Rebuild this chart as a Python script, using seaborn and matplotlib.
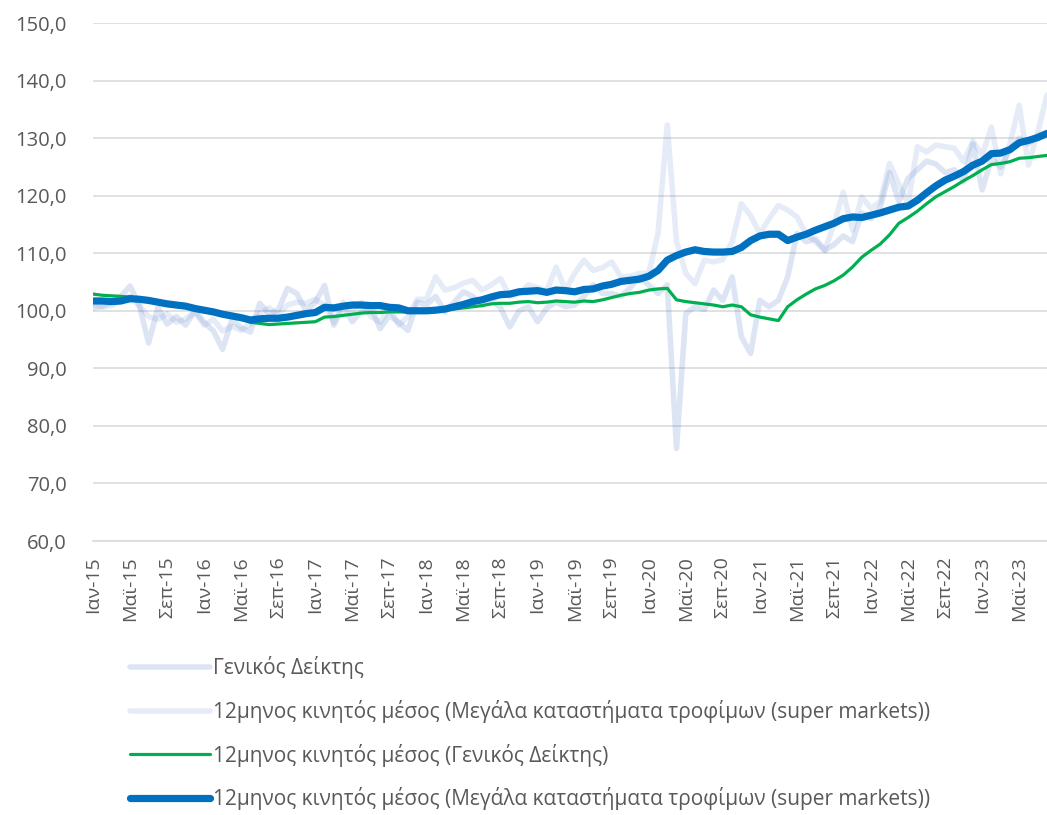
import matplotlib
matplotlib.use("Agg")
import matplotlib.pyplot as plt
import matplotlib.ticker as mticker
import numpy as np
import pandas as pd
import seaborn as sns

# Monthly index, Jan-15 .. Aug-23 (104 months)
N_MONTHS = 104

GENERAL = [
    100.5, 100.8, 101.5, 102.5, 104.3, 101.0, 94.4, 100.5, 97.7, 99.0, 97.5, 100.0,
    98.0, 96.5, 93.3, 98.5, 97.0, 96.3, 101.3, 99.5, 100.1, 103.9, 103.0, 100.0,
    101.5, 104.4, 97.5, 100.7, 98.1, 100.0, 100.7, 96.9, 99.2, 98.0, 96.6, 101.5,
    101.0, 102.5, 99.8, 101.5, 103.3, 102.5, 101.0, 102.0, 100.5, 97.2, 100.0, 100.7,
    98.1, 100.5, 101.5, 100.7, 101.0, 102.5, 104.5, 103.0, 103.0, 102.5, 104.0, 105.9,
    104.5, 103.0, 104.5, 76.1, 99.5, 100.7, 100.2, 103.6, 101.8, 105.9, 95.5, 92.6,
    101.8, 100.7, 101.8, 105.9, 113.4, 112.0, 112.5, 110.5, 111.5, 113.0, 112.0, 117.0,
    116.0, 118.0, 124.0, 119.0, 123.0, 124.5, 126.0, 125.5, 124.0, 124.5, 122.5, 129.0,
    121.0, 126.5, 125.0, 128.0, 130.0, 129.0, 130.5, 131.0,
]

SUPERMARKETS = [
    101.2, 100.6, 100.9, 101.8, 102.5, 100.8, 99.0, 98.5, 99.5, 98.0, 98.6, 99.8,
    97.5, 98.5, 96.5, 97.3, 96.6, 97.8, 99.5, 100.5, 99.3, 101.0, 101.5, 101.3,
    102.0, 101.0, 98.0, 101.5, 100.0, 101.5, 99.0, 98.0, 100.5, 97.5, 99.0, 102.0,
    102.0, 105.9, 103.6, 104.0, 104.8, 105.3, 103.6, 104.5, 105.6, 102.5, 103.0, 104.5,
    104.0, 103.5, 107.6, 103.6, 106.5, 108.8, 107.0, 107.5, 108.5, 105.9, 106.0, 106.5,
    106.5, 113.4, 132.3, 112.0, 106.5, 104.7, 108.8, 108.5, 108.9, 112.0, 118.6, 116.5,
    113.4, 116.0, 118.3, 117.5, 116.3, 113.4, 112.0, 110.5, 115.0, 120.6, 114.0, 119.8,
    117.8, 119.0, 125.6, 122.0, 118.6, 128.5, 127.6, 128.8, 128.5, 128.2, 125.9, 129.5,
    127.0, 131.9, 123.8, 129.0, 135.7, 125.3, 131.0, 137.5,
]

MA_GENERAL = [
    102.9, 102.7, 102.6, 102.5, 102.4, 102.2, 101.8, 101.5, 101.2, 100.9, 100.7, 100.3,
    100.0, 99.8, 99.3, 99.0, 98.6, 98.0, 97.8, 97.6, 97.7, 97.8, 97.9, 98.0,
    98.1, 98.9, 99.0, 99.2, 99.4, 99.6, 99.7, 99.7, 99.8, 99.8, 99.8, 99.9,
    99.9, 100.0, 100.1, 100.3, 100.5, 100.7, 100.9, 101.2, 101.3, 101.3, 101.5, 101.6,
    101.4, 101.5, 101.7, 101.6, 101.5, 101.7, 101.6, 101.9, 102.3, 102.7, 103.0, 103.2,
    103.6, 103.8, 103.9, 101.9, 101.6, 101.4, 101.2, 101.0, 100.7, 101.0, 100.7, 99.3,
    98.9, 98.6, 98.3, 100.7, 101.9, 102.9, 103.8, 104.4, 105.2, 106.2, 107.6, 109.3,
    110.5, 111.6, 113.2, 115.2, 116.2, 117.3, 118.6, 119.8, 120.7, 121.6, 122.6, 123.5,
    124.5, 125.4, 125.6, 125.9, 126.5, 126.6, 126.8, 127.0,
]

MA_SUPERMARKETS = [
    101.7, 101.7, 101.6, 101.7, 102.1, 102.0, 101.8, 101.5, 101.2, 101.0, 100.8, 100.4,
    100.1, 99.8, 99.4, 99.1, 98.8, 98.4, 98.6, 98.7, 98.7, 98.9, 99.2, 99.5,
    99.7, 100.6, 100.5, 100.8, 101.0, 101.0, 100.9, 100.9, 100.6, 100.5, 100.0, 100.0,
    100.0, 100.1, 100.3, 100.7, 101.1, 101.6, 101.9, 102.4, 102.8, 102.9, 103.3, 103.4,
    103.5, 103.2, 103.6, 103.5, 103.3, 103.7, 103.8, 104.3, 104.6, 105.1, 105.3, 105.5,
    106.0, 107.0, 108.8, 109.6, 110.2, 110.6, 110.3, 110.2, 110.2, 110.3, 111.0, 112.2,
    113.0, 113.3, 113.3, 112.2, 112.8, 113.3, 114.0, 114.6, 115.2, 116.0, 116.3, 116.2,
    116.6, 117.0, 117.5, 118.0, 118.2, 119.2, 120.5, 121.7, 122.7, 123.4, 124.2, 125.3,
    126.0, 127.3, 127.4, 128.0, 129.2, 129.6, 130.1, 130.8,
]

TICK_LABELS = [
    "Ιαν-15", "Μαϊ-15", "Σεπ-15", "Ιαν-16", "Μαϊ-16", "Σεπ-16", "Ιαν-17",
    "Μαϊ-17", "Σεπ-17", "Ιαν-18", "Μαϊ-18", "Σεπ-18", "Ιαν-19", "Μαϊ-19",
    "Σεπ-19", "Ιαν-20", "Μαϊ-20", "Σεπ-20", "Ιαν-21", "Μαϊ-21", "Σεπ-21",
    "Ιαν-22", "Μαϊ-22", "Σεπ-22", "Ιαν-23", "Μαϊ-23",
]

SERIES_NAMES = [
    "Γενικός Δείκτης",
    "12μηνος κινητός μέσος (Μεγάλα καταστήματα τροφίμων (super markets))",
    "12μηνος κινητός μέσος (Γενικός Δείκτης)",
    "12μηνος κινητός μέσος (Μεγάλα καταστήματα τροφίμων (super markets))",
]

sns.set_style("white")
plt.rcParams["font.family"] = ["Open Sans", "DejaVu Sans"]

df = pd.DataFrame({
    "month": np.arange(N_MONTHS),
    "general": GENERAL,
    "supermarkets": SUPERMARKETS,
    "ma_general": MA_GENERAL,
    "ma_supermarkets": MA_SUPERMARKETS,
})

fig = plt.figure(figsize=(10.47, 8.15), dpi=100)
ax = fig.add_axes([93 / 1047, 1 - 541 / 815, (1047 - 93) / 1047, (541 - 23) / 815])

styles = [
    ("general", "#4472c4", 4.0, 0.18),
    ("supermarkets", "#4472c4", 4.0, 0.13),
    ("ma_general", "#00b050", 2.3, 1.0),
    ("ma_supermarkets", "#0070c0", 5.2, 1.0),
]
for (col, color, lw, alpha), name in zip(styles, SERIES_NAMES):
    sns.lineplot(data=df, x="month", y=col, ax=ax, color=color, linewidth=lw,
                 alpha=alpha, label=name, legend=False)

ax.set_xlim(0, N_MONTHS - 1)
ax.set_ylim(60, 150)
ax.set_yticks(np.arange(60, 151, 10))
ax.yaxis.set_major_formatter(mticker.FuncFormatter(lambda v, p: f"{v:.1f}".replace(".", ",")))
ax.set_xticks(np.arange(0, N_MONTHS, 4))
ax.set_xticklabels(TICK_LABELS, rotation=90)
ax.set_xlabel("")
ax.set_ylabel("")

ax.grid(axis="y", color="#d9d9d9", linewidth=1.1)
ax.set_axisbelow(True)
for side in ["left", "right", "top"]:
    ax.spines[side].set_visible(False)
ax.spines["bottom"].set_color("#d9d9d9")
ax.spines["bottom"].set_linewidth(1.1)
ax.tick_params(axis="x", colors="#595959", labelsize=14, length=5, width=1.1,
               color="#d9d9d9", direction="out", pad=6)
ax.tick_params(axis="y", colors="#595959", labelsize=14.5, length=0, pad=19)

handles, labels = ax.get_legend_handles_labels()
fig.legend(handles, labels, loc="upper left", bbox_to_anchor=(130 / 1047, 1 - 656 / 815),
           frameon=False, fontsize=15, handlelength=3.85, handletextpad=0.15,
           labelspacing=1.0, borderpad=0, borderaxespad=0, labelcolor="#595959")

fig.savefig("out.png", dpi=100)
